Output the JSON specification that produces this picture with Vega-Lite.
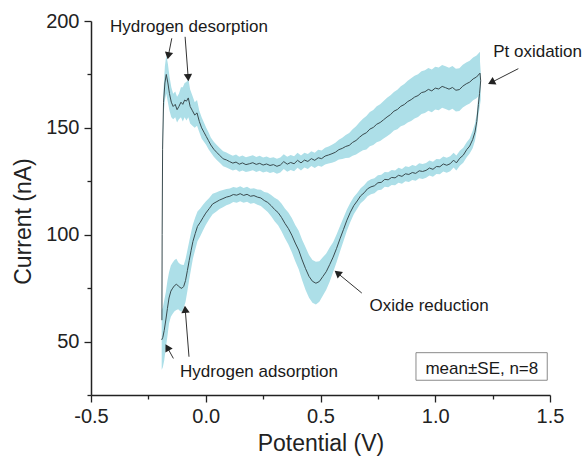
{
  "$schema": "https://vega.github.io/schema/vega-lite/v6.json",
  "width": 459,
  "height": 374,
  "autosize": {"type": "none"},
  "padding": {"left": 91, "top": 21, "right": 36, "bottom": 61},
  "background": "white",
  "config": {
    "view": {"stroke": null},
    "font": "Liberation Sans"
  },
  "datasets": {
    "cv": [
      {"i":1,"b":"f","x":-0.191,"y":60,"se":2},
      {"i":2,"b":"f","x":-0.19,"y":100,"se":3},
      {"i":3,"b":"f","x":-0.188,"y":140,"se":4},
      {"i":4,"b":"f","x":-0.184,"y":162,"se":6},
      {"i":5,"b":"f","x":-0.178,"y":171,"se":8},
      {"i":6,"b":"f","x":-0.172,"y":175,"se":9},
      {"i":7,"b":"f","x":-0.165,"y":171,"se":9},
      {"i":8,"b":"f","x":-0.158,"y":166,"se":8},
      {"i":9,"b":"f","x":-0.15,"y":162,"se":7},
      {"i":10,"b":"f","x":-0.142,"y":160,"se":6},
      {"i":11,"b":"f","x":-0.133,"y":161,"se":6},
      {"i":12,"b":"f","x":-0.125,"y":158.5,"se":6},
      {"i":13,"b":"f","x":-0.117,"y":160,"se":6},
      {"i":14,"b":"f","x":-0.108,"y":162,"se":7},
      {"i":15,"b":"f","x":-0.1,"y":161,"se":8},
      {"i":16,"b":"f","x":-0.092,"y":163,"se":8},
      {"i":17,"b":"f","x":-0.084,"y":162.5,"se":9},
      {"i":18,"b":"f","x":-0.076,"y":164,"se":9},
      {"i":19,"b":"f","x":-0.068,"y":160,"se":8},
      {"i":20,"b":"f","x":-0.058,"y":158,"se":7},
      {"i":21,"b":"f","x":-0.048,"y":156,"se":6},
      {"i":22,"b":"f","x":-0.038,"y":157,"se":6},
      {"i":23,"b":"f","x":-0.028,"y":153,"se":5},
      {"i":24,"b":"f","x":-0.018,"y":150,"se":5},
      {"i":25,"b":"f","x":-0.008,"y":148,"se":4.5},
      {"i":26,"b":"f","x":0.002,"y":146,"se":4},
      {"i":27,"b":"f","x":0.012,"y":144,"se":4},
      {"i":28,"b":"f","x":0.022,"y":142,"se":3.5},
      {"i":29,"b":"f","x":0.035,"y":140,"se":3.5},
      {"i":30,"b":"f","x":0.048,"y":138.5,"se":3.5},
      {"i":31,"b":"f","x":0.062,"y":137,"se":3.5},
      {"i":32,"b":"f","x":0.076,"y":135.5,"se":3.5},
      {"i":33,"b":"f","x":0.09,"y":135,"se":3.5},
      {"i":34,"b":"f","x":0.104,"y":134.2,"se":3.5},
      {"i":35,"b":"f","x":0.118,"y":133.5,"se":3.5},
      {"i":36,"b":"f","x":0.132,"y":134,"se":3.5},
      {"i":37,"b":"f","x":0.146,"y":133,"se":3.5},
      {"i":38,"b":"f","x":0.16,"y":133.6,"se":3.5},
      {"i":39,"b":"f","x":0.175,"y":132.8,"se":3.5},
      {"i":40,"b":"f","x":0.19,"y":133.2,"se":3.5},
      {"i":41,"b":"f","x":0.205,"y":133.7,"se":3.5},
      {"i":42,"b":"f","x":0.22,"y":132.9,"se":3.5},
      {"i":43,"b":"f","x":0.235,"y":133.4,"se":3.5},
      {"i":44,"b":"f","x":0.25,"y":132.6,"se":3.5},
      {"i":45,"b":"f","x":0.265,"y":133.1,"se":3.5},
      {"i":46,"b":"f","x":0.28,"y":132.4,"se":3.5},
      {"i":47,"b":"f","x":0.295,"y":132.8,"se":3.5},
      {"i":48,"b":"f","x":0.31,"y":132,"se":3.5},
      {"i":49,"b":"f","x":0.325,"y":132.6,"se":3.5},
      {"i":50,"b":"f","x":0.34,"y":134.2,"se":3.5},
      {"i":51,"b":"f","x":0.355,"y":133,"se":3.5},
      {"i":52,"b":"f","x":0.37,"y":133.8,"se":3.5},
      {"i":53,"b":"f","x":0.385,"y":133.2,"se":3.5},
      {"i":54,"b":"f","x":0.4,"y":134.8,"se":3.5},
      {"i":55,"b":"f","x":0.415,"y":133.6,"se":3.5},
      {"i":56,"b":"f","x":0.43,"y":134.9,"se":3.5},
      {"i":57,"b":"f","x":0.445,"y":134.3,"se":3.5},
      {"i":58,"b":"f","x":0.46,"y":135.6,"se":3.5},
      {"i":59,"b":"f","x":0.475,"y":134.8,"se":3.6},
      {"i":60,"b":"f","x":0.49,"y":136,"se":3.7},
      {"i":61,"b":"f","x":0.505,"y":135.6,"se":3.8},
      {"i":62,"b":"f","x":0.52,"y":136.8,"se":3.9},
      {"i":63,"b":"f","x":0.535,"y":137.3,"se":4},
      {"i":64,"b":"f","x":0.55,"y":137.9,"se":4.2},
      {"i":65,"b":"f","x":0.565,"y":138.6,"se":4.4},
      {"i":66,"b":"f","x":0.58,"y":139.8,"se":4.6},
      {"i":67,"b":"f","x":0.595,"y":140.4,"se":5},
      {"i":68,"b":"f","x":0.61,"y":141.3,"se":5.4},
      {"i":69,"b":"f","x":0.625,"y":141.8,"se":5.8},
      {"i":70,"b":"f","x":0.64,"y":143.2,"se":6.2},
      {"i":71,"b":"f","x":0.655,"y":144.1,"se":6.6},
      {"i":72,"b":"f","x":0.67,"y":145.6,"se":7},
      {"i":73,"b":"f","x":0.685,"y":146.9,"se":7.4},
      {"i":74,"b":"f","x":0.7,"y":147.7,"se":7.8},
      {"i":75,"b":"f","x":0.715,"y":149.4,"se":8},
      {"i":76,"b":"f","x":0.73,"y":150.2,"se":8.2},
      {"i":77,"b":"f","x":0.745,"y":151.7,"se":8.4},
      {"i":78,"b":"f","x":0.76,"y":152.5,"se":8.6},
      {"i":79,"b":"f","x":0.775,"y":153.8,"se":8.8},
      {"i":80,"b":"f","x":0.79,"y":155.1,"se":9},
      {"i":81,"b":"f","x":0.805,"y":156.2,"se":9},
      {"i":82,"b":"f","x":0.82,"y":157.8,"se":9},
      {"i":83,"b":"f","x":0.835,"y":158.6,"se":9.2},
      {"i":84,"b":"f","x":0.85,"y":160.1,"se":9.4},
      {"i":85,"b":"f","x":0.865,"y":160.9,"se":9.6},
      {"i":86,"b":"f","x":0.88,"y":162.3,"se":9.8},
      {"i":87,"b":"f","x":0.895,"y":163.2,"se":10},
      {"i":88,"b":"f","x":0.91,"y":164.4,"se":10},
      {"i":89,"b":"f","x":0.925,"y":165.1,"se":10},
      {"i":90,"b":"f","x":0.94,"y":166.5,"se":10},
      {"i":91,"b":"f","x":0.955,"y":166.9,"se":10},
      {"i":92,"b":"f","x":0.97,"y":168,"se":10},
      {"i":93,"b":"f","x":0.985,"y":167.3,"se":10},
      {"i":94,"b":"f","x":1.0,"y":168.6,"se":10},
      {"i":95,"b":"f","x":1.015,"y":168.2,"se":10},
      {"i":96,"b":"f","x":1.03,"y":169.4,"se":10},
      {"i":97,"b":"f","x":1.045,"y":168.8,"se":10},
      {"i":98,"b":"f","x":1.06,"y":168.1,"se":10},
      {"i":99,"b":"f","x":1.075,"y":168.9,"se":10},
      {"i":100,"b":"f","x":1.09,"y":167.6,"se":10},
      {"i":101,"b":"f","x":1.105,"y":167.9,"se":10},
      {"i":102,"b":"f","x":1.12,"y":169.5,"se":10},
      {"i":103,"b":"f","x":1.135,"y":170.6,"se":10},
      {"i":104,"b":"f","x":1.15,"y":171.4,"se":10},
      {"i":105,"b":"f","x":1.165,"y":172.9,"se":10},
      {"i":106,"b":"f","x":1.18,"y":173.8,"se":10},
      {"i":107,"b":"f","x":1.195,"y":175.6,"se":10},
      {"i":108,"b":"r","x":1.198,"y":172,"se":9},
      {"i":109,"b":"r","x":1.193,"y":166,"se":7},
      {"i":110,"b":"r","x":1.188,"y":161,"se":5},
      {"i":111,"b":"r","x":1.181,"y":153,"se":4},
      {"i":112,"b":"r","x":1.173,"y":148,"se":4},
      {"i":113,"b":"r","x":1.163,"y":144.5,"se":4},
      {"i":114,"b":"r","x":1.15,"y":141.5,"se":3.5},
      {"i":115,"b":"r","x":1.137,"y":139.8,"se":3.5},
      {"i":116,"b":"r","x":1.122,"y":137.2,"se":3.5},
      {"i":117,"b":"r","x":1.107,"y":135.8,"se":3.5},
      {"i":118,"b":"r","x":1.092,"y":133.6,"se":3.5},
      {"i":119,"b":"r","x":1.08,"y":134.9,"se":3.5},
      {"i":120,"b":"r","x":1.065,"y":133.2,"se":3.5},
      {"i":121,"b":"r","x":1.05,"y":132.5,"se":3.5},
      {"i":122,"b":"r","x":1.035,"y":133.1,"se":3.5},
      {"i":123,"b":"r","x":1.02,"y":131.8,"se":3.5},
      {"i":124,"b":"r","x":1.005,"y":131.9,"se":3.5},
      {"i":125,"b":"r","x":0.99,"y":130.6,"se":3.5},
      {"i":126,"b":"r","x":0.975,"y":131.2,"se":3.5},
      {"i":127,"b":"r","x":0.96,"y":130.1,"se":3.5},
      {"i":128,"b":"r","x":0.945,"y":129.6,"se":3.5},
      {"i":129,"b":"r","x":0.93,"y":129.9,"se":3.5},
      {"i":130,"b":"r","x":0.915,"y":128.7,"se":3.5},
      {"i":131,"b":"r","x":0.9,"y":129.1,"se":3.5},
      {"i":132,"b":"r","x":0.885,"y":128.2,"se":3.5},
      {"i":133,"b":"r","x":0.87,"y":128.5,"se":3.5},
      {"i":134,"b":"r","x":0.855,"y":127.3,"se":3.5},
      {"i":135,"b":"r","x":0.84,"y":127.8,"se":3.5},
      {"i":136,"b":"r","x":0.825,"y":126.6,"se":3.5},
      {"i":137,"b":"r","x":0.81,"y":126.8,"se":3.5},
      {"i":138,"b":"r","x":0.795,"y":125.7,"se":3.5},
      {"i":139,"b":"r","x":0.78,"y":125.9,"se":3.5},
      {"i":140,"b":"r","x":0.765,"y":124.5,"se":3.5},
      {"i":141,"b":"r","x":0.75,"y":124.3,"se":3.5},
      {"i":142,"b":"r","x":0.735,"y":122.9,"se":3.5},
      {"i":143,"b":"r","x":0.72,"y":122.4,"se":3.5},
      {"i":144,"b":"r","x":0.705,"y":121.5,"se":3.5},
      {"i":145,"b":"r","x":0.69,"y":119.6,"se":3.5},
      {"i":146,"b":"r","x":0.675,"y":118.2,"se":3.5},
      {"i":147,"b":"r","x":0.66,"y":115.8,"se":3.7},
      {"i":148,"b":"r","x":0.645,"y":113.6,"se":4},
      {"i":149,"b":"r","x":0.63,"y":110.5,"se":4.5},
      {"i":150,"b":"r","x":0.615,"y":106.8,"se":5},
      {"i":151,"b":"r","x":0.6,"y":102.4,"se":5.5},
      {"i":152,"b":"r","x":0.585,"y":98.1,"se":6},
      {"i":153,"b":"r","x":0.57,"y":93.6,"se":6.5},
      {"i":154,"b":"r","x":0.555,"y":89.5,"se":7},
      {"i":155,"b":"r","x":0.54,"y":86,"se":8},
      {"i":156,"b":"r","x":0.525,"y":82.7,"se":8.5},
      {"i":157,"b":"r","x":0.51,"y":80.4,"se":9},
      {"i":158,"b":"r","x":0.495,"y":78.1,"se":9.5},
      {"i":159,"b":"r","x":0.48,"y":77.3,"se":10},
      {"i":160,"b":"r","x":0.465,"y":78.2,"se":10},
      {"i":161,"b":"r","x":0.45,"y":80.5,"se":10},
      {"i":162,"b":"r","x":0.435,"y":84.1,"se":10},
      {"i":163,"b":"r","x":0.42,"y":88.2,"se":9.5},
      {"i":164,"b":"r","x":0.405,"y":92.8,"se":9},
      {"i":165,"b":"r","x":0.39,"y":96.1,"se":8.5},
      {"i":166,"b":"r","x":0.375,"y":99.8,"se":8},
      {"i":167,"b":"r","x":0.36,"y":102.9,"se":7.5},
      {"i":168,"b":"r","x":0.345,"y":105.3,"se":7},
      {"i":169,"b":"r","x":0.33,"y":108.1,"se":6.5},
      {"i":170,"b":"r","x":0.315,"y":110.4,"se":6},
      {"i":171,"b":"r","x":0.3,"y":111.8,"se":5.5},
      {"i":172,"b":"r","x":0.285,"y":113.6,"se":5},
      {"i":173,"b":"r","x":0.27,"y":115.1,"se":4.5},
      {"i":174,"b":"r","x":0.255,"y":116,"se":4},
      {"i":175,"b":"r","x":0.24,"y":117.2,"se":3.8},
      {"i":176,"b":"r","x":0.225,"y":117.6,"se":3.6},
      {"i":177,"b":"r","x":0.21,"y":118.3,"se":3.5},
      {"i":178,"b":"r","x":0.195,"y":118,"se":3.5},
      {"i":179,"b":"r","x":0.18,"y":118.9,"se":3.5},
      {"i":180,"b":"r","x":0.165,"y":118.4,"se":3.5},
      {"i":181,"b":"r","x":0.15,"y":119.2,"se":3.5},
      {"i":182,"b":"r","x":0.135,"y":118.5,"se":3.5},
      {"i":183,"b":"r","x":0.12,"y":118.8,"se":3.5},
      {"i":184,"b":"r","x":0.105,"y":118,"se":3.6},
      {"i":185,"b":"r","x":0.09,"y":117.6,"se":3.8},
      {"i":186,"b":"r","x":0.075,"y":116.9,"se":4},
      {"i":187,"b":"r","x":0.06,"y":116.2,"se":4.2},
      {"i":188,"b":"r","x":0.045,"y":115.3,"se":4.5},
      {"i":189,"b":"r","x":0.03,"y":114.4,"se":4.8},
      {"i":190,"b":"r","x":0.015,"y":112.2,"se":5},
      {"i":191,"b":"r","x":0.0,"y":110.1,"se":5.5},
      {"i":192,"b":"r","x":-0.012,"y":108,"se":6},
      {"i":193,"b":"r","x":-0.024,"y":105.8,"se":6.5},
      {"i":194,"b":"r","x":-0.036,"y":103.9,"se":7},
      {"i":195,"b":"r","x":-0.046,"y":100.5,"se":7.5},
      {"i":196,"b":"r","x":-0.056,"y":96.8,"se":8},
      {"i":197,"b":"r","x":-0.064,"y":92.5,"se":8.5},
      {"i":198,"b":"r","x":-0.072,"y":88,"se":9},
      {"i":199,"b":"r","x":-0.08,"y":83.2,"se":9.5},
      {"i":200,"b":"r","x":-0.088,"y":78.6,"se":10},
      {"i":201,"b":"r","x":-0.096,"y":75.8,"se":10},
      {"i":202,"b":"r","x":-0.104,"y":74.9,"se":11},
      {"i":203,"b":"r","x":-0.112,"y":75.3,"se":11},
      {"i":204,"b":"r","x":-0.12,"y":76.1,"se":11},
      {"i":205,"b":"r","x":-0.128,"y":76.8,"se":12},
      {"i":206,"b":"r","x":-0.136,"y":76.2,"se":12},
      {"i":207,"b":"r","x":-0.144,"y":75,"se":12},
      {"i":208,"b":"r","x":-0.152,"y":73.6,"se":12},
      {"i":209,"b":"r","x":-0.16,"y":70.4,"se":12},
      {"i":210,"b":"r","x":-0.167,"y":65.5,"se":13},
      {"i":211,"b":"r","x":-0.174,"y":60.1,"se":13},
      {"i":212,"b":"r","x":-0.181,"y":55.2,"se":14},
      {"i":213,"b":"r","x":-0.187,"y":52,"se":14},
      {"i":214,"b":"r","x":-0.192,"y":50.8,"se":14}
    ],
    "notes": [
      {"label":"Hydrogen desorption","x":-0.073,"y":194.8},
      {"label":"Pt oxidation","x":1.446,"y":183.2},
      {"label":"Oxide reduction","x":0.973,"y":64.2},
      {"label":"Hydrogen adsorption","x":0.232,"y":33.2},
      {"label":"mean±SE, n=8","x":1.203,"y":35.0}
    ],
    "arrows": [
      {"id":1,"x":-0.148,"y":191.9,"x2":-0.162,"y2":184.3},
      {"id":2,"x":-0.09,"y":192.6,"x2":-0.077,"y2":174.1},
      {"id":3,"x":1.362,"y":177.7,"x2":1.249,"y2":171.5},
      {"id":4,"x":0.68,"y":72.7,"x2":0.578,"y2":81.7},
      {"id":5,"x":-0.141,"y":42.1,"x2":-0.165,"y2":46.8},
      {"id":6,"x":-0.073,"y":42.9,"x2":-0.089,"y2":64.5}
    ],
    "box": [
      {"x":0.916,"x2":1.488,"y":44.8,"y2":31.9}
    ]
  },
  "layer": [
    {
      "data": {"name": "box"},
      "mark": {"type": "rect", "fill": "white", "stroke": "#8a8a8a", "strokeWidth": 1},
      "encoding": {
        "x": {"field": "x", "type": "quantitative", "title": "Potential (V)",
          "scale": {"domain": [-0.5, 1.5], "nice": false, "zero": false},
          "axis": {
          "values": [-0.5, -0.25, 0, 0.25, 0.5, 0.75, 1.0, 1.25, 1.5],
          "labelExpr": "datum.value % 0.5 === 0 ? (datum.value < 0 ? '-' + format(-datum.value, '.1f') : format(datum.value, '.1f')) : ''",
          "grid": false,
          "domainColor": "#222",
          "domainWidth": 1.5,
          "tickColor": "#222",
          "tickWidth": 1.3,
          "tickSize": {"condition": {"test": "datum.value % 0.5 === 0", "value": 7}, "value": 4},
          "labelFont": "Liberation Sans",
          "labelFontSize": 20,
          "labelColor": "#222",
          "labelPadding": 4,
          "labelFlush": false,
          "labelOverlap": false,
          "titleFont": "Liberation Sans",
          "titleFontSize": 23,
          "titleFontWeight": "normal",
          "titleColor": "#222",
          "titleY": 37
        }},
        "x2": {"field": "x2"},
        "y": {"field": "y", "type": "quantitative", "title": "Current (nA)",
          "scale": {"domain": [25, 200], "nice": false, "zero": false},
          "axis": {
          "values": [25, 50, 75, 100, 125, 150, 175, 200],
          "labelExpr": "datum.value % 50 === 0 ? format(datum.value, 'd') : ''",
          "grid": false,
          "domainColor": "#222",
          "domainWidth": 1.5,
          "tickColor": "#222",
          "tickWidth": 1.3,
          "tickSize": {"condition": {"test": "datum.value % 50 === 0", "value": 7}, "value": 4},
          "labelFont": "Liberation Sans",
          "labelFontSize": 20,
          "labelColor": "#222",
          "labelPadding": 5,
          "labelFlush": false,
          "labelOverlap": false,
          "titleFont": "Liberation Sans",
          "titleFontSize": 23,
          "titleFontWeight": "normal",
          "titleColor": "#222",
          "titleX": -56,
          "titleY": 200
        }},
        "y2": {"field": "y2"}
      }
    },
    {
      "data": {"name": "cv"},
      "mark": {"type": "errorband", "band": {"color": "#addfe8", "opacity": 1}},
      "encoding": {
        "x": {"field": "x", "type": "quantitative", "title": "Potential (V)"},
        "y": {"field": "y", "type": "quantitative", "title": "Current (nA)"},
        "yError": {"field": "se"},
        "detail": {"field": "b"}
      }
    },
    {
      "data": {"name": "cv"},
      "mark": {"type": "line", "color": "#3a4b4f", "strokeWidth": 1},
      "encoding": {
        "x": {"field": "x", "type": "quantitative", "title": "Potential (V)"},
        "y": {"field": "y", "type": "quantitative", "title": "Current (nA)"},
        "order": {"field": "i", "type": "quantitative"}
      }
    },
    {
      "data": {"name": "arrows"},
      "mark": {"type": "rule", "color": "#333", "strokeWidth": 1},
      "encoding": {
        "x": {"field": "x", "type": "quantitative", "title": "Potential (V)"},
        "y": {"field": "y", "type": "quantitative", "title": "Current (nA)"},
        "x2": {"field": "x2"},
        "y2": {"field": "y2"}
      }
    },
    {
      "data": {"name": "arrows"},
      "transform": [{"filter": "datum.id === 1"}],
      "mark": {"type": "point", "shape": "triangle", "filled": true, "color": "#222", "size": 70, "angle": 191, "opacity": 1},
      "encoding": {"x": {"field": "x2", "type": "quantitative", "title": "Potential (V)"}, "y": {"field": "y2", "type": "quantitative", "title": "Current (nA)"}}
    },
    {
      "data": {"name": "arrows"},
      "transform": [{"filter": "datum.id === 2"}],
      "mark": {"type": "point", "shape": "triangle", "filled": true, "color": "#222", "size": 70, "angle": 176, "opacity": 1},
      "encoding": {"x": {"field": "x2", "type": "quantitative", "title": "Potential (V)"}, "y": {"field": "y2", "type": "quantitative", "title": "Current (nA)"}}
    },
    {
      "data": {"name": "arrows"},
      "transform": [{"filter": "datum.id === 3"}],
      "mark": {"type": "point", "shape": "triangle", "filled": true, "color": "#222", "size": 70, "angle": 243, "opacity": 1},
      "encoding": {"x": {"field": "x2", "type": "quantitative", "title": "Potential (V)"}, "y": {"field": "y2", "type": "quantitative", "title": "Current (nA)"}}
    },
    {
      "data": {"name": "arrows"},
      "transform": [{"filter": "datum.id === 4"}],
      "mark": {"type": "point", "shape": "triangle", "filled": true, "color": "#222", "size": 70, "angle": 309, "opacity": 1},
      "encoding": {"x": {"field": "x2", "type": "quantitative", "title": "Potential (V)"}, "y": {"field": "y2", "type": "quantitative", "title": "Current (nA)"}}
    },
    {
      "data": {"name": "arrows"},
      "transform": [{"filter": "datum.id === 5"}],
      "mark": {"type": "point", "shape": "triangle", "filled": true, "color": "#222", "size": 70, "angle": 331, "opacity": 1},
      "encoding": {"x": {"field": "x2", "type": "quantitative", "title": "Potential (V)"}, "y": {"field": "y2", "type": "quantitative", "title": "Current (nA)"}}
    },
    {
      "data": {"name": "arrows"},
      "transform": [{"filter": "datum.id === 6"}],
      "mark": {"type": "point", "shape": "triangle", "filled": true, "color": "#222", "size": 70, "angle": 355, "opacity": 1},
      "encoding": {"x": {"field": "x2", "type": "quantitative", "title": "Potential (V)"}, "y": {"field": "y2", "type": "quantitative", "title": "Current (nA)"}}
    },
    {
      "data": {"name": "notes"},
      "mark": {"type": "text", "font": "Liberation Sans", "fontSize": 17, "color": "#1a1a1a", "align": "center", "baseline": "alphabetic"},
      "encoding": {
        "x": {"field": "x", "type": "quantitative", "title": "Potential (V)"},
        "y": {"field": "y", "type": "quantitative", "title": "Current (nA)"},
        "text": {"field": "label"}
      }
    }
  ]
}
